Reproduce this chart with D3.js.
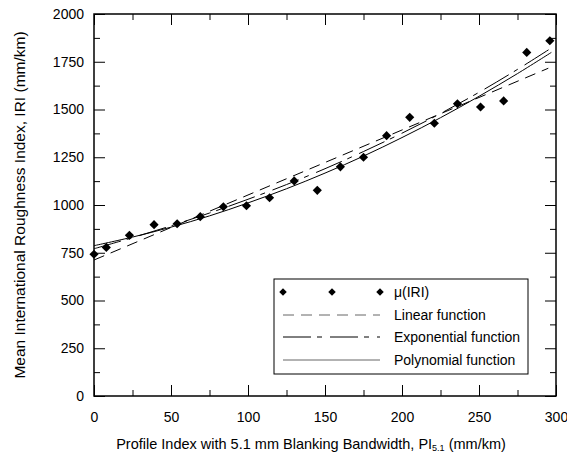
<!DOCTYPE html>
<html>
<head>
<meta charset="utf-8">
<script src="https://cdn.jsdelivr.net/npm/d3@7"></script>
<style>
    body { margin: 0; background: #fff; }
    svg { display: block; }
</style>
</head>
<body>
<svg id="chart" width="567" height="459"></svg>
<script>
// measured points, mu(IRI)
const iriX = [0, 8, 23, 39, 54, 69, 84, 99, 114, 130, 145, 160, 175, 190, 205, 221, 236, 251, 266, 281, 296]
const iriY = [742, 778, 841, 897, 902, 939, 991, 996, 1038, 1126, 1077, 1200, 1250, 1363, 1459, 1428, 1530, 1513, 1545, 1799, 1860]

// fitted curves
const curveX = [0, 25, 50, 75, 100, 125, 150, 175, 200, 225, 250, 275, 297]
const expY = [771, 829, 891, 958, 1030, 1107, 1190, 1280, 1376, 1479, 1590, 1710, 1822]
const polyY = [787, 832, 884, 943, 1011, 1085, 1167, 1256, 1353, 1457, 1569, 1688, 1799]
const linearX = [0, 295]
const linearY = [712, 1716]

const xMajor = [0, 50, 100, 150, 200, 250, 300]
const xMinor = [25, 75, 125, 175, 225, 275]
const yMajor = [0, 250, 500, 750, 1000, 1250, 1500, 1750, 2000]
const yMinor = [125, 375, 625, 875, 1125, 1375, 1625, 1875]

const legendLabels = ["\u03bc(IRI)", "Linear function", "Exponential function", "Polynomial function"]

const font = "'Liberation Sans', Arial, sans-serif"
const plotLeft = 94, plotRight = 556, plotTop = 14, plotBottom = 396

const svg = d3.select("#chart")
    .attr("font-family", font)

const x = d3.scaleLinear().domain([0, 300]).range([plotLeft, plotRight])
const y = d3.scaleLinear().domain([0, 2000]).range([plotBottom, plotTop])

// axes, ticks pointing inward on all four sides
function drawAxis(axis, transform, showLabels) {
    const g = svg.append("g")
        .attr("transform", transform)
        .call(axis)
    g.select(".domain").remove()
    g.selectAll("line").attr("stroke", "#000").attr("stroke-width", 1)
    if (!showLabels) g.selectAll("text").remove()
    return g
}

const bx = drawAxis(d3.axisBottom(x).tickValues(xMajor).tickSize(-11).tickPadding(16).tickFormat(d3.format("d")),
    `translate(0,${plotBottom})`, true)
bx.selectAll("text").attr("font-size", 14).attr("font-family", font).attr("fill", "#000")
drawAxis(d3.axisBottom(x).tickValues(xMinor).tickSize(-6), `translate(0,${plotBottom})`, false)
drawAxis(d3.axisTop(x).tickValues(xMajor).tickSize(-11), `translate(0,${plotTop})`, false)
drawAxis(d3.axisTop(x).tickValues(xMinor).tickSize(-6), `translate(0,${plotTop})`, false)

const ly = drawAxis(d3.axisLeft(y).tickValues(yMajor).tickSize(-11).tickPadding(10).tickFormat(d3.format("d")),
    `translate(${plotLeft},0)`, true)
ly.selectAll("text").attr("font-size", 14).attr("font-family", font).attr("fill", "#000")
drawAxis(d3.axisLeft(y).tickValues(yMinor).tickSize(-6), `translate(${plotLeft},0)`, false)
drawAxis(d3.axisRight(y).tickValues(yMajor).tickSize(-11), `translate(${plotRight},0)`, false)
drawAxis(d3.axisRight(y).tickValues(yMinor).tickSize(-6), `translate(${plotRight},0)`, false)

svg.append("rect")
    .attr("x", plotLeft)
    .attr("y", plotTop)
    .attr("width", plotRight - plotLeft)
    .attr("height", plotBottom - plotTop)
    .attr("fill", "none")
    .attr("stroke", "#000")
    .attr("stroke-width", 1.5)

// fitted lines
const line = d3.line().curve(d3.curveCatmullRom)

svg.append("path")
    .attr("d", line(linearX.map((v, i) => [x(v), y(linearY[i])])))
    .attr("fill", "none")
    .attr("stroke", "#000")
    .attr("stroke-width", 1)
    .attr("stroke-dasharray", "11,7")

svg.append("path")
    .attr("d", line(curveX.map((v, i) => [x(v), y(expY[i])])))
    .attr("fill", "none")
    .attr("stroke", "#000")
    .attr("stroke-width", 1)
    .attr("stroke-dasharray", "28,6,5,8")

svg.append("path")
    .attr("d", line(curveX.map((v, i) => [x(v), y(polyY[i])])))
    .attr("fill", "none")
    .attr("stroke", "#000")
    .attr("stroke-width", 1)

// diamonds
const diamond = d3.symbol().type(d3.symbolSquare).size(42)
svg.append("g")
    .selectAll("path")
    .data(iriX)
    .enter()
    .append("path")
    .attr("d", diamond)
    .attr("transform", (d, i) => `translate(${x(d)},${y(iriY[i])}) rotate(45)`)
    .attr("fill", "#000")

// legend
const legend = svg.append("g")
legend.append("rect")
    .attr("x", 274)
    .attr("y", 279)
    .attr("width", 254)
    .attr("height", 95)
    .attr("fill", "#fff")
    .attr("stroke", "#000")
    .attr("stroke-width", 1)

const rowY = [292, 315, 337, 360]
const smallDiamond = d3.symbol().type(d3.symbolSquare).size(28)
for (const cx of [283, 332, 380]) {
    legend.append("path")
        .attr("d", smallDiamond)
        .attr("transform", `translate(${cx},${rowY[0]}) rotate(45)`)
        .attr("fill", "#000")
}
const sampleStyles = [null, "11,7", "28,6,5,8", null]
for (let i = 1; i < 4; i++) {
    legend.append("line")
        .attr("x1", 283)
        .attr("x2", 380)
        .attr("y1", rowY[i])
        .attr("y2", rowY[i])
        .attr("stroke", i === 2 ? "#000" : "#666")
        .attr("stroke-width", 1)
        .attr("stroke-dasharray", sampleStyles[i])
}
legend.selectAll("text")
    .data(legendLabels)
    .enter()
    .append("text")
    .attr("x", 394)
    .attr("y", (d, i) => rowY[i])
    .attr("dy", "0.35em")
    .attr("font-size", 14)
    .text(d => d)

// axis titles
const xTitle = svg.append("text")
    .attr("x", 311)
    .attr("y", 449)
    .attr("text-anchor", "middle")
    .attr("font-size", 14.5)
xTitle.append("tspan").text("Profile Index with 5.1 mm Blanking Bandwidth, PI")
xTitle.append("tspan").attr("font-size", 9).attr("dy", 2).text("5.1")
xTitle.append("tspan").attr("dy", -2).text(" (mm/km)")

svg.append("text")
    .attr("transform", "rotate(-90)")
    .attr("x", -205)
    .attr("y", 25)
    .attr("text-anchor", "middle")
    .attr("font-size", 15.5)
    .text("Mean International Roughness Index, IRI (mm/km)")
</script>
</body>
</html>
